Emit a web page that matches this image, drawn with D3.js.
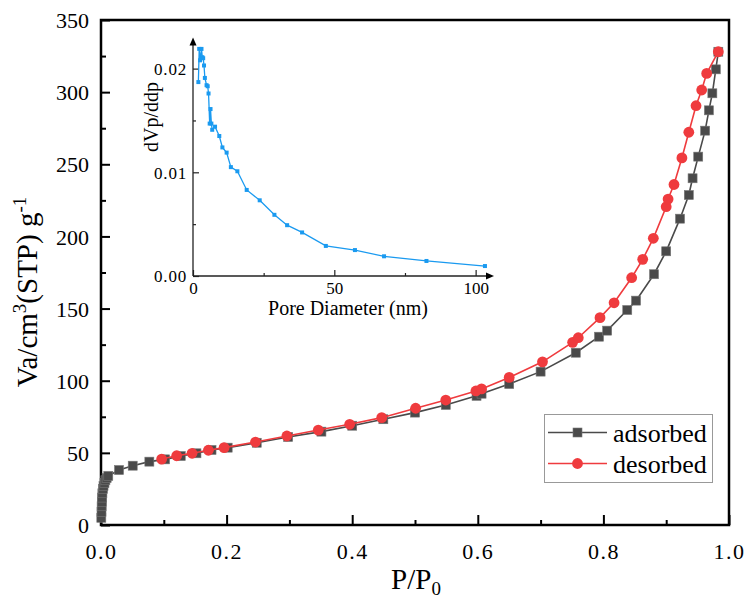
<!DOCTYPE html>
<html><head><meta charset="utf-8">
<script src="https://cdn.jsdelivr.net/npm/d3@7"></script>
<style>body{margin:0;background:#fff}svg{display:block}</style>
</head><body><svg id="c" width="748" height="600"></svg>
<script>
// ---- data ----
const adsP = [0.0005,0.0008,0.001,0.0013,0.0017,0.0022,0.003,0.004,0.0055,0.007,0.009,0.0116,0.0287,0.0505,0.077,0.102,0.127,0.152,0.176,0.2017,0.248,0.298,0.351,0.400,0.4496,0.500,0.549,0.598,0.606,0.650,0.700,0.756,0.793,0.806,0.838,0.852,0.8806,0.900,0.922,0.936,0.942,0.951,0.962,0.968,0.9735,0.979,0.983];
const adsV = [5,9,13,16,19,22,25,27,29,31,32.5,34,38.1,41.1,43.9,45.5,47.8,49.7,52.0,53.6,57.0,61.0,64.7,68.8,73.3,77.9,83.2,89.5,91.0,97.7,106.3,119.4,130.5,134.7,149,155.5,173.8,189.7,212.3,228.7,240.3,255.3,273.3,287.4,299.2,315.8,328];
const desP = [0.0966,0.1205,0.145,0.171,0.196,0.246,0.296,0.346,0.396,0.447,0.501,0.549,0.597,0.606,0.650,0.703,0.751,0.760,0.7946,0.817,0.845,0.8626,0.8795,0.900,0.903,0.9124,0.925,0.936,0.9475,0.9565,0.9645,0.983];
const desV = [45.7,48.0,49.7,51.8,53.6,57.5,61.7,65.8,69.8,74.4,80.9,86.6,92.9,94.3,102.3,113.1,126.6,129.8,143.7,154,171.4,184.1,198.7,220.6,225.9,236,254.4,272.2,290.6,301.5,313,328];
const poreD = [1.9,2.2,2.5,3.0,3.3,3.6,3.9,4.2,4.8,5.2,5.5,5.9,6.2,6.5,6.8,7.8,9.3,10.4,11.9,13.4,15.7,19.0,23.6,28.8,33.3,38.6,47.0,57.3,67.6,82.6,103.3];
const dvdp = [0.0187,0.0219,0.0208,0.0219,0.0211,0.0210,0.0203,0.0191,0.0184,0.0183,0.0176,0.0147,0.0161,0.0147,0.0141,0.0144,0.0135,0.0124,0.0119,0.0105,0.0101,0.0083,0.0073,0.0059,0.0049,0.0042,0.0029,0.0025,0.0019,0.00145,0.00096];
const xTicks = [0,0.2,0.4,0.6,0.8,1.0];
const xTickLabels = ["0.0","0.2","0.4","0.6","0.8","1.0"];
const yTicks = [0,50,100,150,200,250,300,350];
const insetXTicks = [0,50,100];
const insetYTicks = [0,0.01,0.02];
const insetYLabels = ["0.00","0.01","0.02"];
const seriesNames = ["adsorbed","desorbed"];

const FONT = "'Liberation Serif', 'DejaVu Serif', serif";
const svg = d3.select("#c").attr("font-family",FONT);
const x = d3.scaleLinear().domain([0,1]).range([101,729]);
const y = d3.scaleLinear().domain([0,350]).range([525,20]);
const grey = "#4a4a4a", red = "#ef3b3e", blue = "#1a9af0";

// frame
svg.append("rect").attr("x",x(0)).attr("y",y(350)).attr("width",x(1)-x(0)).attr("height",y(0)-y(350))
  .attr("fill","none").attr("stroke","#000").attr("stroke-width",2.5);

// axes
const xAx = svg.append("g").attr("transform",`translate(0,${y(0)})`)
  .call(d3.axisBottom(x).tickValues(xTicks).tickSize(-10).tickFormat((d,i)=>xTickLabels[i]).tickPadding(18));
const xMinor = svg.append("g").attr("transform",`translate(0,${y(0)})`)
  .call(d3.axisBottom(x).tickValues([0.1,0.3,0.5,0.7,0.9]).tickSize(-5).tickFormat(""));
const yAx = svg.append("g").attr("transform",`translate(${x(0)},0)`)
  .call(d3.axisLeft(y).tickValues(yTicks).tickSize(-9).tickPadding(12));
const yMinor = svg.append("g").attr("transform",`translate(${x(0)},0)`)
  .call(d3.axisLeft(y).tickValues([25,75,125,175,225,275,325]).tickSize(-5).tickFormat(""));
[xAx,xMinor,yAx,yMinor].forEach(g=>{g.attr("font-family",FONT);g.select(".domain").remove();g.selectAll("line").attr("stroke","#000").attr("stroke-width",2);});
xAx.selectAll("text").attr("font-size",22).attr("fill","#000").style("letter-spacing","1.5px");
yAx.selectAll("text").attr("font-size",22).attr("fill","#000").attr("dy","0.35em");

// axis titles
const xt = svg.append("text").attr("x",416).attr("y",589).attr("text-anchor","middle").attr("font-size",29);
xt.append("tspan").text("P/P");
xt.append("tspan").attr("font-size",19).attr("dy",6).text("0");
const yt = svg.append("text").attr("transform","translate(37,292) rotate(-90)").attr("text-anchor","middle").attr("font-size",29);
yt.append("tspan").text("Va/cm");
yt.append("tspan").attr("font-size",19).attr("dy",-11).text("3");
yt.append("tspan").attr("dy",11).text("(STP) g");
yt.append("tspan").attr("font-size",19).attr("dy",-11).text("-1");

// series
const ads = adsP.map((p,i)=>[p,adsV[i]]);
const des = desP.map((p,i)=>[p,desV[i]]);
const line = d3.line().x(d=>x(d[0])).y(d=>y(d[1]));
svg.append("path").attr("d",line(ads)).attr("fill","none").attr("stroke",grey).attr("stroke-width",1.6);
svg.selectAll(".sq").data(ads).join("rect").attr("class","sq")
  .attr("x",d=>x(d[0])-4.5).attr("y",d=>y(d[1])-4.5).attr("width",9).attr("height",9)
  .attr("fill",grey).attr("stroke","#777").attr("stroke-width",0.6);
svg.append("path").attr("d",line(des)).attr("fill","none").attr("stroke",red).attr("stroke-width",1.6);
svg.selectAll(".ci").data(des).join("circle").attr("class","ci")
  .attr("cx",d=>x(d[0])).attr("cy",d=>y(d[1])).attr("r",5.4).attr("fill",red);

// legend
const lg = svg.append("g");
lg.append("rect").attr("x",544.5).attr("y",414.5).attr("width",168).attr("height",68)
  .attr("fill","#fff").attr("stroke","#999").attr("stroke-width",1);
[[432.5,grey,"sq"],[463.5,red,"ci"]].forEach(([ly,col,m],i)=>{
  lg.append("line").attr("x1",548).attr("x2",607).attr("y1",ly).attr("y2",ly).attr("stroke",col).attr("stroke-width",1.6);
  if(m==="sq") lg.append("rect").attr("x",577.5-4.5).attr("y",ly-4.5).attr("width",9).attr("height",9).attr("fill",col).attr("stroke","#777").attr("stroke-width",0.6);
  else lg.append("circle").attr("cx",577.5).attr("cy",ly).attr("r",5.4).attr("fill",col);
  lg.append("text").attr("x",613).attr("y",ly+9.5).attr("font-size",26).text(seriesNames[i]);
});

// ---- inset ----
const ix = d3.scaleLinear().domain([0,106.5]).range([193,494]);
const iy = d3.scaleLinear().domain([0,0.023]).range([276,37.5]);
const ins = svg.append("g");
const ixAx = ins.append("g").attr("transform",`translate(0,276)`)
  .call(d3.axisBottom(ix).tickValues(insetXTicks).tickSize(-6).tickFormat(d3.format("d")).tickPadding(6));
const ixMinor = ins.append("g").attr("transform",`translate(0,276)`)
  .call(d3.axisBottom(ix).tickValues([25,75]).tickSize(-3).tickFormat(""));
const iyAx = ins.append("g").attr("transform",`translate(193,0)`)
  .call(d3.axisLeft(iy).tickValues(insetYTicks).tickSize(-6).tickFormat((d,i)=>insetYLabels[i]).tickPadding(6));
const iyMinor = ins.append("g").attr("transform",`translate(193,0)`)
  .call(d3.axisLeft(iy).tickValues([0.005,0.015]).tickSize(-3).tickFormat(""));
[ixAx,ixMinor,iyAx,iyMinor].forEach(g=>{g.attr("font-family",FONT);g.select(".domain").remove();g.selectAll("line").attr("stroke","#222").attr("stroke-width",1.2);});
ixAx.selectAll("text").attr("font-size",17).attr("fill","#000");
iyAx.selectAll("text").attr("font-size",17).attr("fill","#000").attr("dy","0.35em").style("letter-spacing","0.8px");
ins.append("line").attr("x1",193).attr("x2",193).attr("y1",276).attr("y2",iy.range()[1]+6).attr("stroke","#222").attr("stroke-width",1.3);
ins.append("line").attr("x1",193).attr("x2",ix.range()[1]-6).attr("y1",276).attr("y2",276).attr("stroke","#222").attr("stroke-width",1.3);
const yTop = iy.range()[1], xEnd = ix.range()[1];
ins.append("path").attr("d",`M193,${yTop}L189.5,${yTop+8}L196.5,${yTop+8}Z`).attr("fill","#000");
ins.append("path").attr("d",`M${xEnd},276L${xEnd-8},272.5L${xEnd-8},279.5Z`).attr("fill","#000");
const ipts = poreD.map((d,i)=>[d,dvdp[i]]);
ins.append("path").attr("d",d3.line().x(d=>ix(d[0])).y(d=>iy(d[1]))(ipts)).attr("fill","none").attr("stroke",blue).attr("stroke-width",1.3);
ins.selectAll(".ip").data(ipts).join("rect").attr("class","ip")
  .attr("x",d=>ix(d[0])-2).attr("y",d=>iy(d[1])-2).attr("width",4).attr("height",4).attr("fill",blue);
ins.append("text").attr("x",348).attr("y",315).attr("text-anchor","middle").attr("font-size",20).text("Pore Diameter (nm)");
ins.append("text").attr("transform","translate(158,117) rotate(-90)").attr("text-anchor","middle").attr("font-size",20).text("dVp/ddp");
</script></body></html>
